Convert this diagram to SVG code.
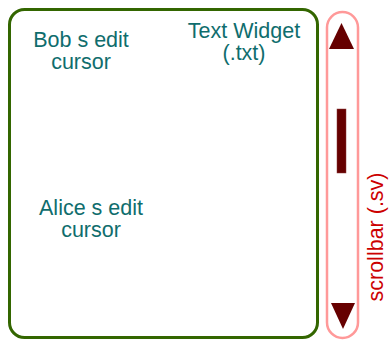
<svg xmlns="http://www.w3.org/2000/svg" width="389" height="341" viewBox="0 0 389 341">
  <style>
    .lbl { font-family: "Liberation Sans", Arial, sans-serif; font-size: 21.5px; fill: #0f6d6d; text-anchor: middle; }
    .sbl { font-family: "Liberation Sans", Arial, sans-serif; font-size: 21.5px; fill: #cc0000; text-anchor: middle; }
    .arrow { fill: #660000; }
  </style>
  <rect width="389" height="341" fill="#ffffff"/>

  <!-- text widget frame -->
  <g id="text-widget">
    <rect x="9.5" y="9.5" width="308" height="328" rx="15" ry="15" fill="none" stroke="#336600" stroke-width="3"/>
    <text class="lbl" x="244" y="38">Text Widget</text>
    <text class="lbl" x="244" y="60">(.txt)</text>
  </g>

  <g id="bob-cursor">
    <text class="lbl" x="81" y="47">Bob s edit</text>
    <text class="lbl" x="81" y="69">cursor</text>
  </g>

  <g id="alice-cursor">
    <text class="lbl" x="91" y="215">Alice s edit</text>
    <text class="lbl" x="91" y="237">cursor</text>
  </g>

  <!-- scrollbar -->
  <g id="scrollbar">
    <rect x="327" y="12" width="31" height="326" rx="15.5" ry="15.5" fill="none" stroke="#ff9999" stroke-width="2.5"/>
    <polygon class="arrow" points="341.5,23 329,49 354,49"/>
    <rect x="337" y="109" width="9" height="64" fill="#660000" stroke="#8a3a3a" stroke-width="0.5"/>
    <polygon class="arrow" points="331,303 355,303 343,329"/>
    <text class="sbl" transform="translate(383,237) rotate(-90)">scrollbar (.sv)</text>
  </g>
</svg>
